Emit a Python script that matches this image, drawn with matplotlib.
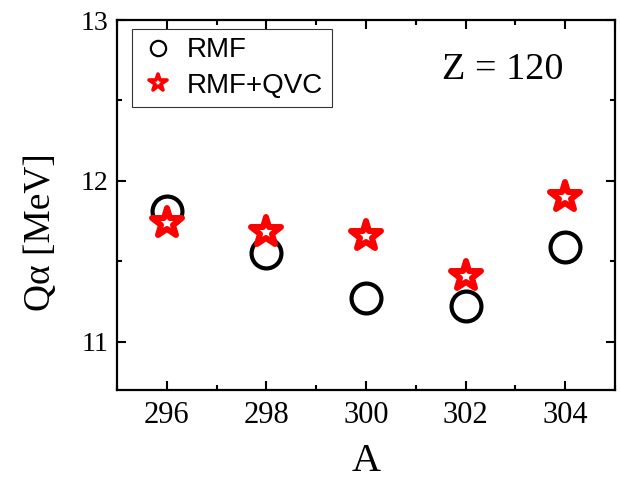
import matplotlib
matplotlib.use("Agg")
import matplotlib.pyplot as plt
from matplotlib.ticker import MultipleLocator
from matplotlib.markers import MarkerStyle

A = [296, 298, 300, 302, 304]
rmf = [11.81, 11.55, 11.27, 11.22, 11.59]
rmf_qvc = [11.74, 11.68, 11.66, 11.41, 11.90]
xticks = [296, 298, 300, 302, 304]
yticks = [11, 12, 13]

serif = ["Liberation Serif", "DejaVu Serif"]
sans = ["Liberation Sans", "DejaVu Sans"]
plt.rcParams["font.family"] = serif

fig = plt.figure(figsize=(6.2, 4.8), dpi=100)
ax = fig.add_axes([117/620, 90/480, 498/620, 370/480])

star = MarkerStyle("*", joinstyle="round")
ax.plot(A, rmf, linestyle="none", marker="o", markersize=21.5, markerfacecolor="none",
        markeredgecolor="black", markeredgewidth=3.0, label="RMF")
ax.plot(A, rmf_qvc, linestyle="none", marker=star,
        markersize=22, markerfacecolor="white",
        markeredgecolor="red", markeredgewidth=4.3, label="RMF+QVC")

ax.set_xlim(295, 305)
ax.set_ylim(10.7, 13)
ax.set_xticks(xticks)
ax.set_yticks(yticks)
ax.xaxis.set_minor_locator(MultipleLocator(1))
ax.yaxis.set_minor_locator(MultipleLocator(0.5))
ax.tick_params(which="both", direction="in", top=True, right=True, width=1.5)
ax.tick_params(which="major", length=6.5)
ax.tick_params(which="minor", length=3.5)
ax.tick_params(axis="x", labelsize=22, pad=8)
ax.tick_params(axis="y", labelsize=20, pad=6)
for s in ax.spines.values():
    s.set_linewidth(1.6)

ax.set_xlabel("A", fontsize=29, labelpad=9)
ax.set_ylabel("Q\u03b1 [MeV]", fontsize=27)
ax.yaxis.set_label_coords(-0.118, 0.427)

ax.text(0.775, 0.866, "Z = 120", transform=ax.transAxes, fontsize=27.5,
        ha="center", va="center")

leg = ax.legend(loc="upper left", bbox_to_anchor=(0.0295, 0.9757), borderaxespad=0,
                prop={"family": sans, "size": 20}, frameon=True, fancybox=False,
                edgecolor="black", markerscale=0.6, handlelength=1.3, handletextpad=0.4,
                borderpad=0.3, labelspacing=0.35)
leg.get_frame().set_linewidth(0.8)
hs = leg.legend_handles
hs[0].set_markeredgewidth(1.6)
hs[0].set_markersize(11)
hs[1].set_markeredgewidth(2.6)
hs[1].set_markersize(13)

fig.savefig("out.png", dpi=100)
